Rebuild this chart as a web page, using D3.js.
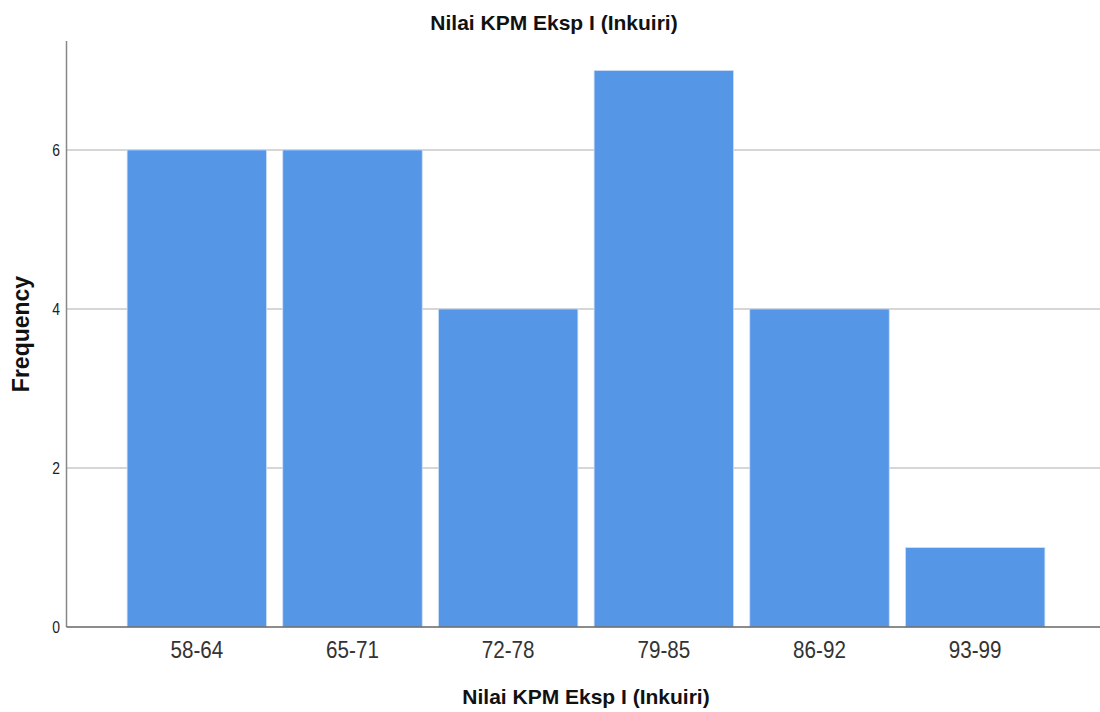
<!DOCTYPE html>
<html>
<head>
<meta charset="utf-8">
<script src="https://cdn.jsdelivr.net/npm/d3@7"></script>
<style>
  html, body { margin: 0; padding: 0; background: #fff; }
  svg { display: block; }
</style>
</head>
<body>
<svg id="chart" width="1100" height="712"></svg>
<script>
const categories = ["58-64", "65-71", "72-78", "79-85", "86-92", "93-99"];
const frequencies = [6, 6, 4, 7, 4, 1];
const yTicks = [0, 2, 4, 6];
const chartTitle = "Nilai KPM Eksp I (Inkuiri)";
const xTitle = "Nilai KPM Eksp I (Inkuiri)";
const yTitle = "Frequency";

const svg = d3.select("#chart");
const plot = { left: 66.5, right: 1100, top: 41, bottom: 627 };

const x = d3.scaleBand()
  .domain(categories)
  .range([119, 1053])
  .paddingInner(0.104)
  .paddingOuter(0.052);

const y = d3.scaleLinear()
  .domain([0, 7.37])
  .range([plot.bottom, plot.top]);

// gridlines
svg.append("g")
  .selectAll("line")
  .data(yTicks.filter(d => d > 0))
  .join("line")
  .attr("x1", plot.left).attr("x2", plot.right)
  .attr("y1", d => y(d)).attr("y2", d => y(d))
  .attr("stroke", "#c8c8c8")
  .attr("stroke-width", 1.5);

// bars
svg.append("g")
  .selectAll("rect")
  .data(categories)
  .join("rect")
  .attr("x", d => x(d))
  .attr("width", x.bandwidth())
  .attr("y", (d, i) => y(frequencies[i]))
  .attr("height", (d, i) => y(0) - y(frequencies[i]))
  .attr("fill", "#5596e6")
  .attr("stroke", "#cfe0f7")
  .attr("stroke-width", 0.8);

// y axis
const yAxis = svg.append("g")
  .attr("transform", `translate(${plot.left},0)`)
  .call(d3.axisLeft(y).tickValues(yTicks).tickSize(0).tickPadding(8).tickFormat(d3.format("d")));
yAxis.select(".domain").remove();
yAxis.selectAll("text")
  .attr("font-family", "'Liberation Sans', Arial, sans-serif")
  .attr("font-size", 17)
  .attr("fill", "#222")
  .attr("transform", "scale(0.82,1)");

// x axis
const xAxis = svg.append("g")
  .attr("transform", `translate(0,${plot.bottom})`)
  .call(d3.axisBottom(x).tickSize(0).tickPadding(14));
xAxis.select(".domain").remove();
xAxis.selectAll("text")
  .attr("font-family", "'Liberation Sans', Arial, sans-serif")
  .attr("font-size", 24)
  .attr("fill", "#333")
  .attr("transform", "scale(0.86,1)");

// axis lines
svg.append("line")
  .attr("x1", plot.left).attr("x2", plot.left)
  .attr("y1", plot.top).attr("y2", plot.bottom)
  .attr("stroke", "#888").attr("stroke-width", 1.5);
svg.append("line")
  .attr("x1", plot.left).attr("x2", plot.right)
  .attr("y1", plot.bottom).attr("y2", plot.bottom)
  .attr("stroke", "#666").attr("stroke-width", 1.5);

// titles
svg.append("text")
  .attr("x", 554).attr("y", 30)
  .attr("text-anchor", "middle")
  .attr("font-family", "'Liberation Sans', Arial, sans-serif")
  .attr("font-weight", "bold")
  .attr("font-size", 21)
  .attr("fill", "#111")
  .text(chartTitle);

svg.append("text")
  .attr("x", 586).attr("y", 704)
  .attr("text-anchor", "middle")
  .attr("font-family", "'Liberation Sans', Arial, sans-serif")
  .attr("font-weight", "bold")
  .attr("font-size", 21)
  .attr("fill", "#111")
  .text(xTitle);

svg.append("text")
  .attr("transform", "translate(29,334) rotate(-90)")
  .attr("text-anchor", "middle")
  .attr("font-family", "'Liberation Sans', Arial, sans-serif")
  .attr("font-weight", "bold")
  .attr("font-size", 23)
  .attr("fill", "#111")
  .text(yTitle);
</script>
</body>
</html>
